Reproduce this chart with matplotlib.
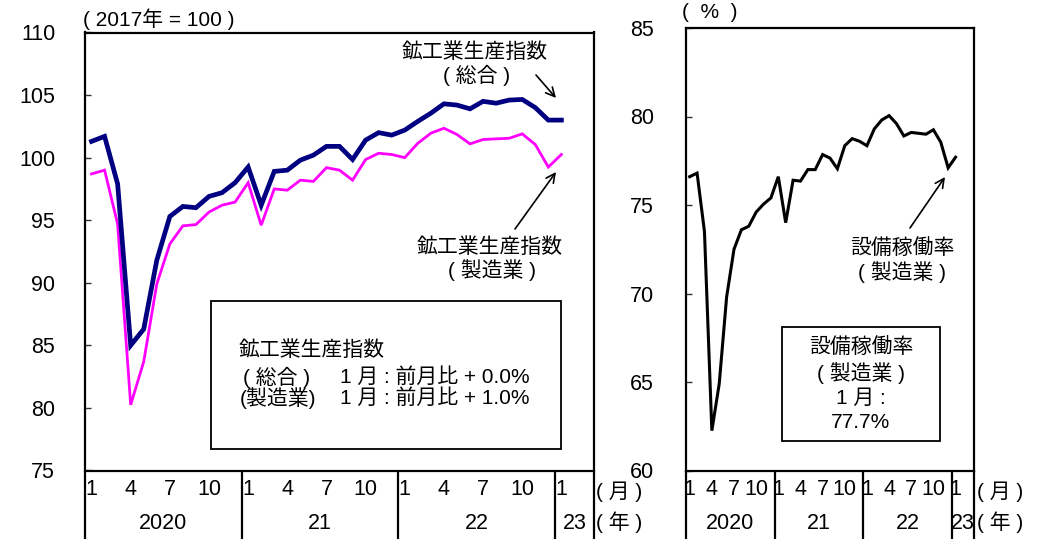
import matplotlib
matplotlib.use('Agg')
import matplotlib.pyplot as plt
from matplotlib.patches import Rectangle, FancyArrowPatch

plt.rcParams['font.family'] = ['Liberation Sans', 'Noto Sans CJK JP']

W, H = 1057, 539

# ---------------- data ----------------
months = list(range(37))  # Jan 2020 .. Jan 2023
month_tick_idx = [0, 3, 6, 9, 12, 15, 18, 21, 24, 27, 30, 33, 36]
month_tick_labels = ['1', '4', '7', '10', '1', '4', '7', '10', '1', '4', '7', '10', '1']
year_labels = ['2020', '21', '22', '23']
year_centers = [5.5, 17.5, 29.5, 37.0]
year_bounds = [-0.5, 11.5, 23.5, 35.5, 38.5]

iip_total = [101.3, 101.7, 97.9, 85.0, 86.3, 91.8, 95.3, 96.1, 96.0, 96.9, 97.2, 98.0,
             99.25, 96.2, 98.9, 99.0, 99.8, 100.2, 100.9, 100.9, 99.85, 101.4, 102.0, 101.8,
             102.2, 102.9, 103.55, 104.3, 104.2, 103.9, 104.5, 104.35, 104.6, 104.65, 104.0, 103.0,
             103.0]
iip_mfg = [98.7, 99.0, 94.7, 80.25, 83.7, 89.9, 93.1, 94.55, 94.65, 95.65, 96.2, 96.45,
           98.0, 94.6, 97.5, 97.4, 98.2, 98.1, 99.2, 99.0, 98.2, 99.85, 100.35, 100.25,
           100.0, 101.15, 101.95, 102.35, 101.85, 101.1, 101.45, 101.5, 101.55, 101.9, 101.05, 99.25,
           100.25]
util_mfg = [76.6, 76.8, 73.5, 62.25, 64.9, 69.8, 72.5, 73.6, 73.8, 74.6, 75.05, 75.4,
            76.6, 74.0, 76.4, 76.35, 77.0, 77.0, 77.85, 77.65, 77.05, 78.35, 78.75, 78.6,
            78.35, 79.3, 79.8, 80.05, 79.6, 78.9, 79.1, 79.05, 79.0, 79.25, 78.55, 77.1,
            77.7]

FS = 15      # CJK text
FN = 15.5    # numbers


def fp(x, y):
    return (x / W, 1 - y / H)


fig = plt.figure(figsize=(W / 100, H / 100), dpi=100)
fig.patch.set_facecolor('white')

ax1 = fig.add_axes([85 / W, 68.5 / H, 509 / W, 438 / H])
ax2 = fig.add_axes([686 / W, 68.5 / H, 288 / W, 442.5 / H])


def style_axis(ax, ylim, yticks, pad):
    ax.set_xlim(-0.5, 38.5)
    ax.set_ylim(*ylim)
    ax.set_yticks(yticks)
    ax.set_yticklabels([str(v) for v in yticks], fontsize=FN)
    ax.tick_params(axis='y', direction='in', length=4.5, width=1, color='#333333', pad=pad)
    ax.set_xticks(month_tick_idx)
    ax.set_xticklabels(month_tick_labels, fontsize=FN)
    ax.tick_params(axis='x', length=0, pad=6.0)
    for s in ax.spines.values():
        s.set_linewidth(1.6)
        s.set_color('black')
    tr = ax.get_xaxis_transform()
    for b in year_bounds:
        ax.plot([b, b], [0, -0.25], transform=tr, color='black', lw=1.6, clip_on=False,
                solid_capstyle='butt')
    for lab, c in zip(year_labels, year_centers):
        ax.text(c, -0.12, lab, transform=tr, ha='center', va='center', fontsize=FN)


style_axis(ax1, (75, 110), [75, 80, 85, 90, 95, 100, 105, 110], 21.5)
style_axis(ax2, (60, 85), [60, 65, 70, 75, 80, 85], 23)

ax1.plot(months, iip_mfg, color='#FF00FF', lw=2.0, solid_joinstyle='miter', zorder=3)
ax1.plot(months, iip_total, color='#000080', lw=3.4, solid_joinstyle='miter', zorder=4)
ax2.plot(months, util_mfg, color='black', lw=2.2, solid_joinstyle='miter', zorder=3)

# unit labels
fig.text(*fp(159, 19), '( 2017年 = 100 )', ha='center', va='center', fontsize=FS)
fig.text(*fp(710, 12), '(  %  )', ha='center', va='center', fontsize=FS)
for x0 in (596, 977):
    fig.text(*fp(x0, 492), '( 月 )', ha='left', va='center', fontsize=FS)
    fig.text(*fp(x0, 522), '( 年 )', ha='left', va='center', fontsize=FS)

# series labels and arrows
fig.text(*fp(475, 52), '鉱工業生産指数', ha='center', va='center', fontsize=FS)
fig.text(*fp(477, 75), '( 総合 )', ha='center', va='center', fontsize=FS)
fig.text(*fp(490, 247), '鉱工業生産指数', ha='center', va='center', fontsize=FS)
fig.text(*fp(492, 270), '( 製造業 )', ha='center', va='center', fontsize=FS)
fig.text(*fp(902, 248), '設備稼働率', ha='center', va='center', fontsize=FS)
fig.text(*fp(902, 272), '( 製造業 )', ha='center', va='center', fontsize=FS)

for (x0, y0), (x1, y1) in [((536, 75), (556, 98)), ((515, 229), (556, 172)),
                           ((910, 228), (945, 177))]:
    fig.add_artist(FancyArrowPatch(fp(x0, y0), fp(x1, y1), transform=fig.transFigure,
                                   arrowstyle='->', lw=1.2, color='black',
                                   mutation_scale=16, shrinkA=0, shrinkB=0, zorder=6))

# boxes
for (x0, y0, x1, y1) in [(211, 301, 561, 449), (782, 327, 940, 441)]:
    fig.add_artist(Rectangle(fp(x0, y1), (x1 - x0) / W, (y1 - y0) / H,
                             transform=fig.transFigure, facecolor='white',
                             edgecolor='black', lw=1.3, zorder=5))

fig.text(*fp(239, 350), '鉱工業生産指数', ha='left', va='center', fontsize=FS, zorder=6)
fig.text(*fp(243, 377), '( 総合 )', ha='left', va='center', fontsize=FS, zorder=6)
fig.text(*fp(340, 377), '1 月 : 前月比 + 0.0%', ha='left', va='center', fontsize=FS, zorder=6)
fig.text(*fp(240, 398), '(製造業)', ha='left', va='center', fontsize=FS, zorder=6)
fig.text(*fp(340, 398), '1 月 : 前月比 + 1.0%', ha='left', va='center', fontsize=FS, zorder=6)

for y, t in [(347, '設備稼働率'), (373, '( 製造業 )'), (398, '1 月 :'), (422, '77.7%')]:
    fig.text(*fp(861, y), t, ha='center', va='center', fontsize=FS, zorder=6)

fig.savefig('out.png', dpi=100, facecolor='white')
